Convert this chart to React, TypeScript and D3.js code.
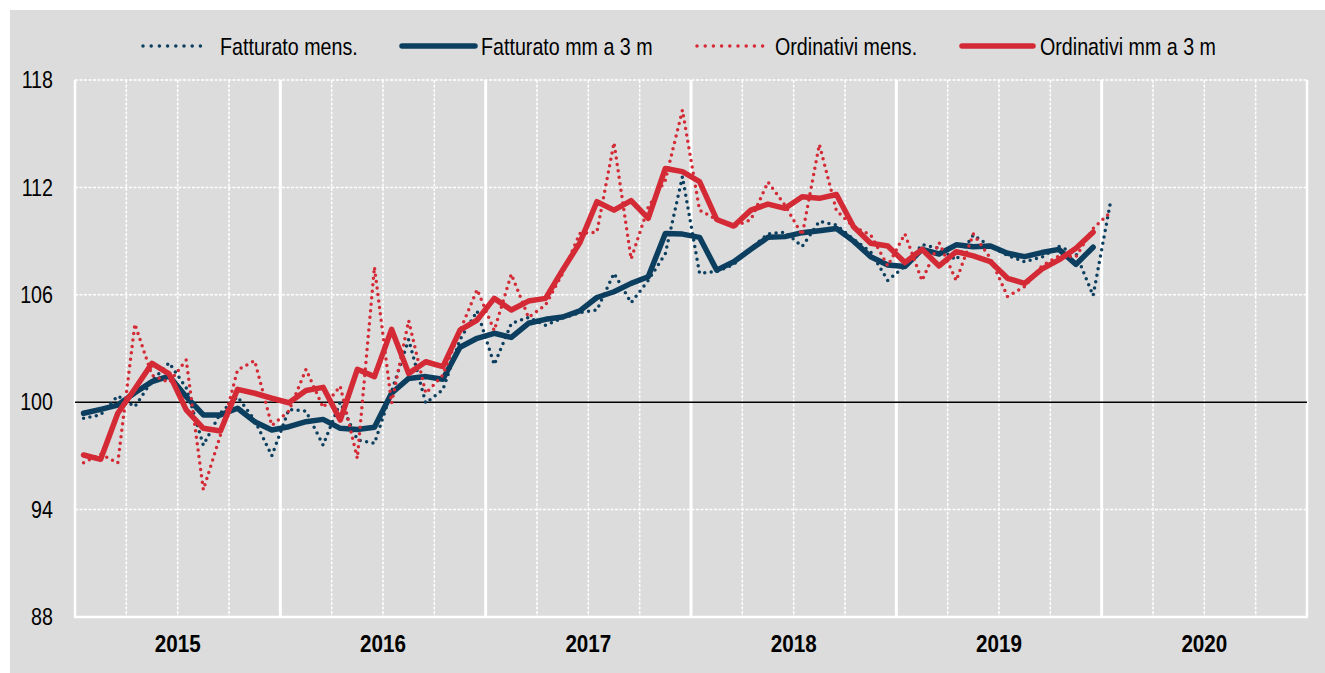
import React from "react";
import * as d3 from "d3";

// Months from Jan 2015 (index 0) onward
const years = ["2015", "2016", "2017", "2018", "2019", "2020"];
const yTicks = [88, 94, 100, 106, 112, 118];

const fatturatoMens = [
  99.1, 99.3, 100.35, 99.75, 101.2, 102.2, 100.8, 97.6, 99.4, 100.3, 99.0, 97.0,
  99.6, 99.5, 97.6, 100.0, 97.9, 97.7, 100.6, 103.5, 99.95, 100.7, 103.5, 105.1,
  102.1, 104.4, 104.74, 104.3, 104.7, 105.0, 105.15, 107.2, 105.56, 106.8, 108.3, 112.6,
  107.2, 107.3, 107.7, 108.6, 109.4, 109.5, 108.7, 110.1, 109.9, 109.1, 108.4, 106.8,
  107.6, 108.8, 108.6, 107.95, 109.34, 108.7, 108.2, 107.85, 108.1, 108.7, 108.3, 105.95,
  111.1,
];

const fatturatoMM3 = [
  99.38, 99.6, 99.84, 100.53, 101.15, 101.46, 100.31, 99.29, 99.29, 99.66, 98.91, 98.45,
  98.63, 98.91, 99.04, 98.54, 98.48, 98.6, 100.5, 101.33, 101.43, 101.28, 103.07, 103.57,
  103.85, 103.62, 104.41, 104.63, 104.76, 105.1, 105.85, 106.17, 106.64, 107.01, 109.43, 109.39,
  109.21, 107.38, 107.85, 108.54, 109.21, 109.25, 109.47, 109.58, 109.7, 109.0, 108.13, 107.67,
  107.58, 108.54, 108.28, 108.79, 108.69, 108.73, 108.32, 108.13, 108.36, 108.54, 107.7, 108.66,
];

const ordinativiMens = [
  96.62, 97.1, 96.6, 104.37, 101.5, 101.1, 102.36, 95.1, 98.17, 101.8, 102.32, 98.7,
  99.5, 101.84, 99.7, 100.9, 96.86, 107.55, 99.94, 104.56, 100.5, 101.52, 104.0, 106.3,
  104.0, 107.16, 104.74, 105.43, 107.2, 109.43, 109.5, 114.5, 108.0, 110.9, 112.4, 116.32,
  110.73, 110.2, 109.8, 110.2, 112.3, 111.0, 109.34, 114.4, 110.7, 109.8, 109.35, 107.61,
  109.4, 106.79, 108.92, 106.79, 109.4, 108.04, 105.9, 106.46, 107.61, 108.17, 108.13, 109.7,
  110.6,
];

const ordinativiMM3 = [
  97.05, 96.81, 99.38, 100.75, 102.17, 101.58, 99.57, 98.54, 98.39, 100.72, 100.5, 100.22,
  99.97, 100.65, 100.83, 99.0, 101.84, 101.43, 104.07, 101.61, 102.26, 101.99, 104.03, 104.59,
  105.8, 105.15, 105.65, 105.8, 107.39, 108.9, 111.2, 110.73, 111.26, 110.27, 113.06, 112.88,
  112.32, 110.21, 109.84, 110.73, 111.07, 110.83, 111.48, 111.39, 111.6, 109.8, 108.88, 108.73,
  107.8, 108.54, 107.61, 108.41, 108.17, 107.85, 106.92, 106.64, 107.43, 107.95, 108.6, 109.5,
];

const NAVY = "#0c3f5f";
const RED = "#d42a36";
const FONT = "'Liberation Sans', Arial, sans-serif";

const series = [
  { name: "Fatturato mens.", data: fatturatoMens, color: NAVY, dotted: true },
  { name: "Fatturato mm a 3 m", data: fatturatoMM3, color: NAVY, dotted: false },
  { name: "Ordinativi mens.", data: ordinativiMens, color: RED, dotted: true },
  { name: "Ordinativi mm a 3 m", data: ordinativiMM3, color: RED, dotted: false },
];

const legendPos = [
  { x0: 143, x1: 205, tx: 220 },
  { x0: 402, x1: 475, tx: 481 },
  { x0: 697, x1: 766, tx: 775 },
  { x0: 962, x1: 1033, tx: 1040 },
];

function NarrowText(props: {
  x: number;
  y: number;
  anchor?: string;
  bold?: boolean;
  sx?: number;
  children: React.ReactNode;
}) {
  const sx = props.sx ?? 0.82;
  return (
    <text
      transform={`translate(${props.x},${props.y}) scale(${sx},1)`}
      textAnchor={props.anchor ?? "start"}
      dominantBaseline="central"
      fontSize={24}
      fontWeight={props.bold ? "bold" : "normal"}
      fill="#000"
    >
      {props.children}
    </text>
  );
}

export default function App() {
  const W = 1325;
  const H = 673;
  const left = 75;
  const right = 1307;
  const top = 80;
  const bottom = 617;

  const x = d3.scaleLinear().domain([0, 72]).range([left, right]);
  const y = d3.scaleLinear().domain([88, 118]).range([bottom, top]);

  const line = d3
    .line<number>()
    .x((_, i) => x(i + 0.5))
    .y((d) => y(d));

  const quarterLines = d3.range(3, 72, 3).filter((m) => m % 12 !== 0);
  const yearLines = d3.range(12, 72, 12);

  return (
    <svg
      width={W}
      height={H}
      style={{ position: "absolute", left: 0, top: 0 }}
      fontFamily={FONT}
    >
      <rect x={10} y={10} width={W - 10} height={H - 10} fill="#dcdcdc" />

      {/* horizontal grid */}
      {[94, 106, 112, 118].map((v) => (
        <line
          key={"h" + v}
          x1={left}
          x2={right}
          y1={y(v)}
          y2={y(v)}
          stroke="#ffffff"
          strokeWidth={1.5}
          strokeDasharray="3 1.5"
        />
      ))}
      {/* quarter grid */}
      {quarterLines.map((m) => (
        <line
          key={"q" + m}
          x1={x(m)}
          x2={x(m)}
          y1={top}
          y2={bottom}
          stroke="#ffffff"
          strokeWidth={1.5}
          strokeDasharray="3 1.5"
        />
      ))}
      {/* year lines */}
      {yearLines.map((m) => (
        <line
          key={"y" + m}
          x1={x(m)}
          x2={x(m)}
          y1={top}
          y2={bottom}
          stroke="#ffffff"
          strokeWidth={3}
        />
      ))}
      <line x1={left} x2={left} y1={top} y2={bottom} stroke="#ffffff" strokeWidth={2.5} />
      <line x1={right} x2={right} y1={top} y2={bottom} stroke="#ffffff" strokeWidth={2.5} />
      <line x1={left - 1} x2={right + 1} y1={bottom} y2={bottom} stroke="#ffffff" strokeWidth={2.5} />
      <line x1={left} x2={right} y1={y(100)} y2={y(100)} stroke="#000000" strokeWidth={1.5} />

      {/* y ticks */}
      {yTicks.map((v) => (
        <NarrowText key={"t" + v} x={53} y={y(v)} anchor="end">
          {v}
        </NarrowText>
      ))}

      {/* year labels */}
      {years.map((yr, k) => (
        <NarrowText key={yr} x={x(k * 12 + 6)} y={644} anchor="middle" bold sx={0.86}>
          {yr}
        </NarrowText>
      ))}

      {/* series */}
      {series.map((s) => (
        <path
          key={s.name}
          d={line(s.data) || ""}
          fill="none"
          stroke={s.color}
          strokeWidth={s.dotted ? 3.5 : 5.5}
          strokeDasharray={s.dotted ? "0 6.5" : undefined}
          strokeLinecap="round"
          strokeLinejoin="round"
        />
      ))}

      {/* legend */}
      {series.map((s, k) => {
        const p = legendPos[k];
        return (
          <g key={"lg" + k}>
            <line
              x1={p.x0}
              x2={p.x1}
              y1={46}
              y2={46}
              stroke={s.color}
              strokeWidth={s.dotted ? 3.5 : 5.5}
              strokeDasharray={s.dotted ? "0 8.2" : undefined}
              strokeLinecap="round"
            />
            <NarrowText x={p.tx} y={47}>
              {s.name}
            </NarrowText>
          </g>
        );
      })}
    </svg>
  );
}
